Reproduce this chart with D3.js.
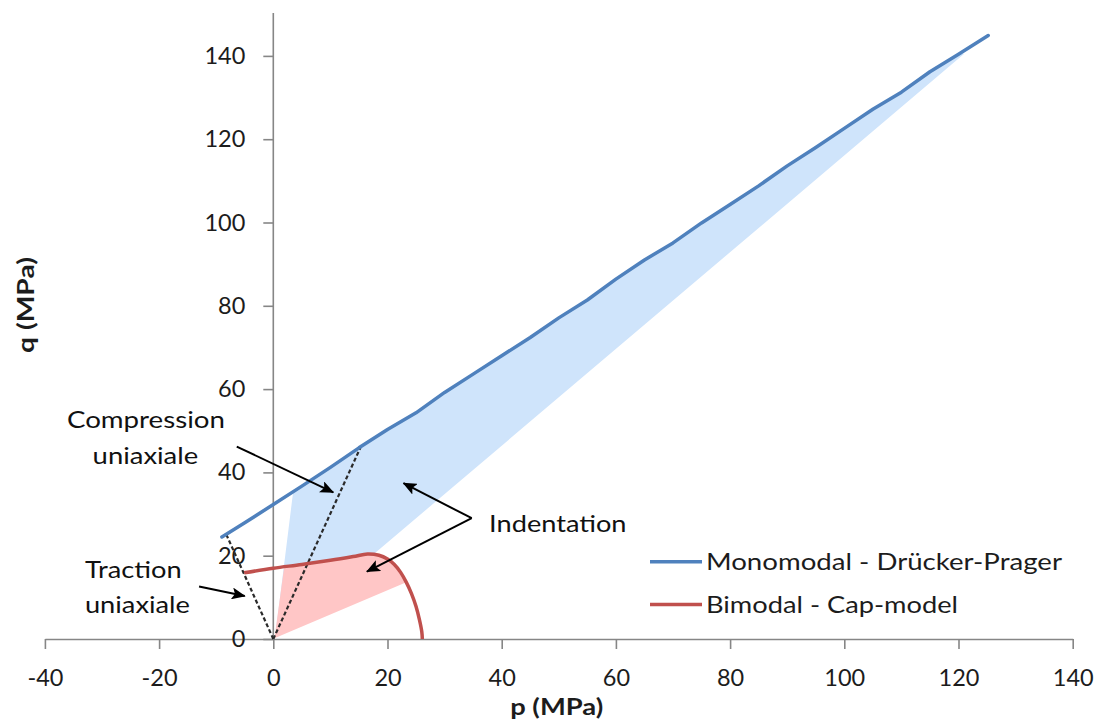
<!DOCTYPE html>
<html>
<head>
<meta charset="utf-8">
<script src="https://cdn.jsdelivr.net/npm/d3@7"></script>
<style>
  html, body { margin: 0; padding: 0; background: #fff; }
  svg { display: block; }
  text { font-family: Lato, "Liberation Sans", sans-serif; }
</style>
</head>
<body>
<svg id="chart" width="1096" height="722"></svg>
<script>
// ---------- data ----------
const xTicks = [-40, -20, 0, 20, 40, 60, 80, 100, 120, 140];
const yTicks = [0, 20, 40, 60, 80, 100, 120, 140];

// Monomodal - Drücker-Prager (p, q)
const dpP = [-9.0, -5, 0, 5, 10, 15, 20, 25, 30, 35, 40, 45, 50, 55, 60, 65, 70, 75, 80, 85, 90, 95, 100, 105, 110, 115, 120, 125.2];
const dpQ = [24.5, 27.9, 32.3, 36.7, 41.2, 45.9, 50.3, 54.3, 59.2, 63.6, 68.0, 72.4, 77.1, 81.4, 86.4, 91.0, 95.1, 99.9, 104.3, 108.8, 113.6, 118.0, 122.6, 127.2, 131.3, 136.2, 140.4, 144.9];

// Bimodal - Cap-model (p, q)
const capP = [-5.1, 0, 5, 10, 14, 16.5, 18.5, 20, 21.2, 22.3, 23.3, 24.2, 25.0, 25.6, 26.0, 26.1];
const capQ = [15.9, 17.0, 17.9, 18.9, 19.8, 20.4, 20.1, 19.2, 17.9, 16.0, 13.6, 10.9, 7.8, 4.6, 1.8, 0];

// Indentation zones (corner points in p, q)
const blueZoneCorners = [[0.3, 0.3], [3.5, 35.6], [121, 140.5]];
const pinkZoneCorners = [[0.2, 0.2], [1.9, 17.2], [23.3, 13.6]];

// dashed loading paths
const tractionPath = [[0, 0], [-8.2, 25.0]];
const compressionPath = [[0, 0], [15.3, 46.1]];

// annotation arrows [from, to] in (p, q)
const arrows = [
  [[-6.4, 46.2], [10.5, 35.2]],
  [[-13.0, 12.6], [-5.0, 10.3]],
  [[34.75, 29.0], [22.8, 37.4]],
  [[34.75, 29.0], [16.4, 16.2]]
];

const seriesNames = ["Monomodal - Drücker-Prager", "Bimodal - Cap-model"];
const seriesColors = ["#4f81bd", "#c0504d"];

// ---------- layout ----------
const svg = d3.select("#chart");
const x = d3.scaleLinear().domain([-40, 140]).range([44.9, 1072.7]);
const y = d3.scaleLinear().domain([0, 150.3]).range([639, 13]);

const dp = dpP.map((p, i) => [p, dpQ[i]]);
const cap = capP.map((p, i) => [p, capQ[i]]);
const line = d3.line().x(d => x(d[0])).y(d => y(d[1]));
const smooth = d3.line().x(d => x(d[0])).y(d => y(d[1])).curve(d3.curveCatmullRom.alpha(0.5));

// ---------- zones ----------
const blueZone = [blueZoneCorners[0], blueZoneCorners[1]]
  .concat(dp.filter(d => d[0] > blueZoneCorners[1][0] && d[0] < blueZoneCorners[2][0]))
  .concat([blueZoneCorners[2]]);
const pinkZone = [pinkZoneCorners[0], pinkZoneCorners[1]]
  .concat(cap.filter(d => d[0] > pinkZoneCorners[1][0] && d[0] < pinkZoneCorners[2][0]))
  .concat([pinkZoneCorners[2]]);

svg.append("path").attr("d", line(blueZone) + "Z").attr("fill", "#cfe4fb");
svg.append("path").attr("d", line(pinkZone) + "Z").attr("fill", "#ffc6c6");

// ---------- axes ----------
const axisColor = "#868686";
const fmt = d => String(d);
const gx = svg.append("g").attr("transform", `translate(0,${y(0)})`)
  .call(d3.axisBottom(x).tickValues(xTicks).tickFormat(fmt).tickSize(10).tickPadding(20).tickSizeOuter(0));
const gy = svg.append("g").attr("transform", `translate(${x(0)},0)`)
  .call(d3.axisLeft(y).tickValues(yTicks).tickFormat(fmt).tickSize(10).tickPadding(18).tickSizeOuter(0));
[gx, gy].forEach(g => {
  g.select(".domain").attr("stroke", axisColor).attr("stroke-width", 1.6);
  g.selectAll(".tick line").attr("stroke", axisColor).attr("stroke-width", 1.6);
  g.selectAll(".tick text").attr("fill", "#1c1c1c").style("font-size", "23.5px").style("font-family", "Lato");
});
gy.select(".domain").attr("d", `M0,${y(0)}V${y.range()[1]}`);

// axis titles
svg.append("text").attr("x", 556.7).attr("y", 715).attr("text-anchor", "middle")
  .attr("font-weight", "bold").style("font-size", "22px").attr("fill", "#1c1c1c")
  .attr("textLength", 93).attr("lengthAdjust", "spacingAndGlyphs").text("p (MPa)");
svg.append("text").attr("transform", "translate(34,305) rotate(-90)").attr("text-anchor", "middle")
  .attr("font-weight", "bold").style("font-size", "22px").attr("fill", "#1c1c1c")
  .attr("textLength", 96).attr("lengthAdjust", "spacingAndGlyphs").text("q (MPa)");

// ---------- dashed paths ----------
[tractionPath, compressionPath].forEach(pth => {
  svg.append("path").attr("d", line(pth)).attr("fill", "none")
    .attr("stroke", "#2a2a2a").attr("stroke-width", 2.2).attr("stroke-dasharray", "4,2.5");
});

// ---------- series ----------
svg.append("path").attr("d", line(dp)).attr("fill", "none")
  .attr("stroke", seriesColors[0]).attr("stroke-width", 3.5)
  .attr("stroke-linejoin", "round").attr("stroke-linecap", "round");
svg.append("path").attr("d", smooth(cap)).attr("fill", "none")
  .attr("stroke", seriesColors[1]).attr("stroke-width", 3.5)
  .attr("stroke-linejoin", "round").attr("stroke-linecap", "butt");

// ---------- arrows ----------
const defs = svg.append("defs");
defs.append("marker").attr("id", "ah").attr("viewBox", "0 0 14 12").attr("refX", 13).attr("refY", 6)
  .attr("markerWidth", 14).attr("markerHeight", 12).attr("markerUnits", "userSpaceOnUse").attr("orient", "auto")
  .append("path").attr("d", "M0,0 L14,6 L0,12 L3,6 Z").attr("fill", "#000");
arrows.forEach(a => {
  svg.append("line").attr("x1", x(a[0][0])).attr("y1", y(a[0][1])).attr("x2", x(a[1][0])).attr("y2", y(a[1][1]))
    .attr("stroke", "#000").attr("stroke-width", 2).attr("marker-end", "url(#ah)");
});

// ---------- annotation texts ----------
const notes = [
  { t: "Compression", p: -22.3, q: 50.7, w: 158, anchor: "middle" },
  { t: "uniaxiale", p: -22.4, q: 42.1, w: 105.6, anchor: "middle" },
  { t: "Traction", p: -24.5, q: 14.6, w: 96.7, anchor: "middle" },
  { t: "uniaxiale", p: -23.8, q: 6.3, w: 105, anchor: "middle" },
  { t: "Indentation", p: 37.8, q: 25.7, w: 137.4, anchor: "start" }
];
notes.forEach(n => {
  svg.append("text").attr("x", x(n.p)).attr("y", y(n.q)).attr("text-anchor", n.anchor)
    .style("font-size", "23.5px").attr("fill", "#111")
    .attr("textLength", n.w).attr("lengthAdjust", "spacingAndGlyphs").text(n.t);
});

// ---------- legend ----------
const legendY = [561.7, 604.5];
const legendW = [356, 252];
seriesNames.forEach((name, i) => {
  const g = svg.append("g").attr("transform", `translate(650,${legendY[i]})`);
  g.append("line").attr("x1", 0).attr("x2", 52).attr("y1", 0).attr("y2", 0)
    .attr("stroke", seriesColors[i]).attr("stroke-width", 3.5);
  g.append("text").attr("x", 56).attr("y", 8.5).style("font-size", "23.5px").attr("fill", "#1c1c1c")
    .attr("textLength", legendW[i]).attr("lengthAdjust", "spacingAndGlyphs").text(name);
});
</script>
</body>
</html>
